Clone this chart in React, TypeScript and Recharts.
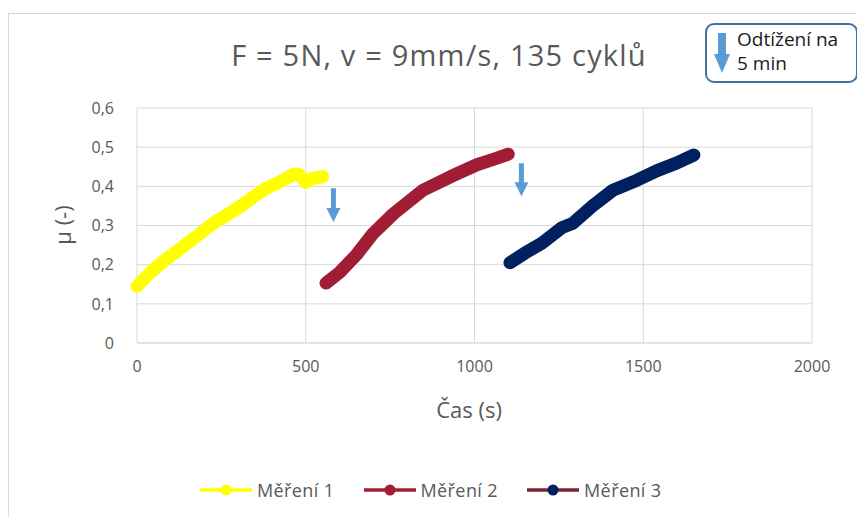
import { LineChart, Line, XAxis, YAxis, CartesianGrid, ReferenceLine } from 'recharts';

// Měření 1 (yellow)
const time1 = [0, 40, 80, 150, 225, 300, 373, 420, 462, 480, 500, 520, 550];
const mu1 = [0.145, 0.18, 0.21, 0.255, 0.305, 0.345, 0.39, 0.41, 0.43, 0.43, 0.41, 0.42, 0.425];

// Měření 2 (red)
const time2 = [560, 600, 650, 700, 760, 847, 930, 1007, 1060, 1100];
const mu2 = [0.153, 0.18, 0.225, 0.28, 0.33, 0.39, 0.425, 0.455, 0.47, 0.482];

// Měření 3 (navy)
const time3 = [1105, 1150, 1200, 1260, 1290, 1350, 1410, 1480, 1541, 1600, 1650];
const mu3 = [0.205, 0.23, 0.255, 0.295, 0.305, 0.35, 0.39, 0.415, 0.44, 0.46, 0.48];

const xTicks = [0, 500, 1000, 1500, 2000];
const yTicks = [0, 0.1, 0.2, 0.3, 0.4, 0.5, 0.6];

// unloading arrows (Odtížení na 5 min)
const arrowTime = [582, 1139];
const arrowTop = [0.395, 0.459];
const arrowTip = [0.309, 0.375];

const seriesNames = ['Měření 1', 'Měření 2', 'Měření 3'];
const lineColors = ['#ffff00', '#a11d33', '#002060'];
const legendLineColors = ['#ffff00', '#a11d33', '#7b2335'];

const toPoints = (t: number[], m: number[]) => t.map((x, i) => ({ t: x, mu: m[i] }));
const series = [toPoints(time1, mu1), toPoints(time2, mu2), toPoints(time3, mu3)];

const FONT = '"Open Sans", "Liberation Sans", sans-serif';
const GRAY = '#595959';

const DownArrow = (props: any) => {
  const { x1, y1, y2 } = props;
  const top = Math.min(y1, y2);
  const tip = Math.max(y1, y2);
  const head = 14;
  return (
    <g>
      <rect x={x1 - 2.5} y={top} width={5} height={tip - top - head + 1} fill="#5b9bd5" />
      <polygon points={`${x1 - 7},${tip - head} ${x1 + 7},${tip - head} ${x1},${tip}`} fill="#5b9bd5" />
    </g>
  );
};

const fmt = (v: number) => (v === 0 ? '0' : v.toFixed(1).replace('.', ','));

export default function App() {
  return (
    <div style={{ position: 'relative', width: 857, height: 509, overflow: 'hidden', background: '#fff' }}>
      <div
        style={{
          position: 'absolute', left: 0, top: 5, width: 900, height: 600,
          borderTop: '1px solid #d9d9d9', borderLeft: '1px solid #d9d9d9',
        }}
      />
      <div
        style={{
          position: 'absolute', left: 0, top: 27, width: 862, textAlign: 'center',
          fontFamily: FONT, fontSize: 29, letterSpacing: 1.2, color: GRAY,
        }}
      >
        F = 5N, v = 9mm/s, 135 cyklů
      </div>
      <div
        style={{
          position: 'absolute', left: 12, top: 202, width: 84, textAlign: 'center',
          transform: 'rotate(-90deg)', fontFamily: FONT, fontSize: 22, color: GRAY,
        }}
      >
        μ (-)
      </div>
      <div
        style={{
          position: 'absolute', left: 361, top: 386, width: 200, textAlign: 'center',
          fontFamily: FONT, fontSize: 22, color: GRAY,
        }}
      >
        Čas (s)
      </div>
      <div
        style={{
          position: 'absolute', left: 697, top: 15, width: 149, height: 56,
          border: '2px solid #41719c', borderRadius: 9, background: '#fff',
        }}
      >
        <svg width={20} height={44} style={{ position: 'absolute', left: 5, top: 8 }}>
          <rect x={6} y={0} width={8} height={22} fill="#5b9bd5" />
          <polygon points="2,21 18,21 10,40" fill="#5b9bd5" />
        </svg>
        <div
          style={{
            position: 'absolute', left: 30, top: 2, fontFamily: FONT, fontSize: 19,
            lineHeight: '24px', color: '#1a1a1a', whiteSpace: 'nowrap',
          }}
        >
          Odtížení na
          <br />
          5 min
        </div>
      </div>
      <div
        style={{
          position: 'absolute', left: 192, top: 470, display: 'flex',
          fontFamily: FONT, fontSize: 18, letterSpacing: 0.4, color: GRAY,
        }}
      >
        {seriesNames.map((name, i) => (
          <div key={name} style={{ display: 'flex', alignItems: 'center', marginRight: i < 2 ? 29 : 0 }}>
            <svg width={52} height={12}>
              <line x1={0} y1={6} x2={52} y2={6} stroke={legendLineColors[i]} strokeWidth={3.5} />
              <circle cx={26} cy={6} r={5.5} fill={lineColors[i]} />
            </svg>
            <span style={{ marginLeft: 5 }}>{name}</span>
          </div>
        ))}
      </div>
      <LineChart
        width={857}
        height={509}
        margin={{ top: 100, right: 53, bottom: 144, left: 69 }}
        style={{ position: 'absolute', left: 0, top: 0 }}
      >
        <CartesianGrid stroke="#d9d9d9" strokeWidth={1} />
        <XAxis
          type="number"
          dataKey="t"
          domain={[0, 2000]}
          ticks={xTicks}
          height={30}
          tickLine={false}
          tickMargin={12}
          stroke="#d9d9d9"
          tick={{ fill: GRAY, fontSize: 16, fontFamily: FONT }}
          allowDuplicatedCategory={false}
        />
        <YAxis
          type="number"
          domain={[0, 0.6]}
          ticks={yTicks}
          width={60}
          tickFormatter={fmt}
          axisLine={false}
          tickLine={false}
          tickMargin={17}
          tick={{ fill: GRAY, fontSize: 16, fontFamily: FONT }}
        />
        {series.map((data, i) => (
          <Line
            key={seriesNames[i]}
            data={data}
            dataKey="mu"
            name={seriesNames[i]}
            type="linear"
            stroke={lineColors[i]}
            strokeWidth={13}
            strokeLinecap="round"
            strokeLinejoin="round"
            dot={false}
            activeDot={false}
            isAnimationActive={false}
          />
        ))}
        {arrowTime.map((t, i) => (
          <ReferenceLine
            key={t}
            segment={[{ x: t, y: arrowTop[i] }, { x: t, y: arrowTip[i] }]}
            ifOverflow="visible"
            shape={DownArrow}
          />
        ))}
      </LineChart>
    </div>
  );
}
